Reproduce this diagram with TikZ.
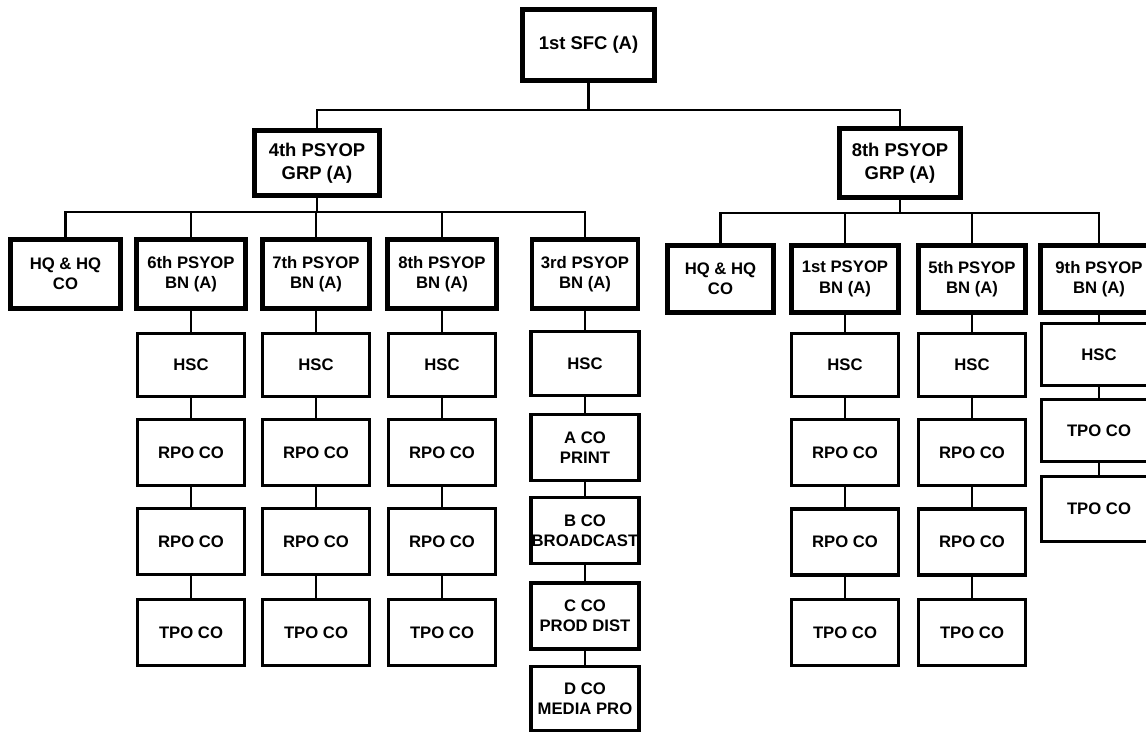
\documentclass[tikz,border=0pt]{standalone}
\usepackage{fontspec}
\setmainfont{Liberation Sans}
\begin{document}
\begin{tikzpicture}[x=0.02cm,y=-0.02cm,
  topbox/.style={draw=black,line width=2.8pt,rectangle,inner sep=0pt,outer sep=0pt,align=center,
    font=\fontsize{10.5}{13}\selectfont\bfseries},
  bnbox/.style={draw=black,line width=2.8pt,rectangle,inner sep=0pt,outer sep=0pt,align=center,
    minimum height=1.38cm,font=\fontsize{9.5}{11.5}\selectfont\bfseries},
  cobox/.style={draw=black,line width=1.9pt,rectangle,inner sep=0pt,outer sep=0pt,align=center,
    minimum width=2.14cm,minimum height=1.32cm,font=\fontsize{9.5}{11.5}\selectfont\bfseries},
  link/.style={draw=black,line width=1.3pt}]
\useasboundingbox (0,0) rectangle (1146,734);
\clip (0,0) rectangle (1146,734);
% top levels
\node[topbox,minimum width=2.64cm,minimum height=1.42cm] (sfc) at (588.5,45) {1st SFC (A)};
\node[topbox,minimum width=2.5cm,minimum height=1.3cm] (g4) at (317,163) {4th PSYOP\\GRP (A)};
\node[topbox,minimum width=2.42cm,minimum height=1.38cm] (g8) at (900,163) {8th PSYOP\\GRP (A)};
% battalions, left group
\node[bnbox,minimum width=2.2cm] (hqL) at (65.5,274) {HQ \& HQ\\CO};
\node[bnbox,minimum width=2.18cm] (b6) at (191,274) {6th PSYOP\\BN (A)};
\node[bnbox,minimum width=2.14cm] (b7) at (316,274) {7th PSYOP\\BN (A)};
\node[bnbox,minimum width=2.18cm] (b8) at (442,274) {8th PSYOP\\BN (A)};
\node[bnbox,minimum width=2.12cm] (b3) at (585,274) {3rd PSYOP\\BN (A)};
% battalions, right group
\node[bnbox,minimum width=2.12cm,minimum height=1.34cm] (hqR) at (720.5,279) {HQ \& HQ\\CO};
\node[bnbox,minimum width=2.14cm,minimum height=1.34cm] (b1) at (845,279) {1st PSYOP\\BN (A)};
\node[bnbox,minimum width=2.14cm,minimum height=1.34cm] (b5) at (972,279) {5th PSYOP\\BN (A)};
\node[bnbox,minimum width=2.34cm,minimum height=1.34cm] (b9) at (1099,279) {9th PSYOP\\BN (A)};
% 6th column
\node[cobox,minimum height=1.26cm] (c6a) at (191,365) {HSC};
\node[cobox] (c6b) at (191,452.5) {RPO CO};
\node[cobox] (c6c) at (191,541.5) {RPO CO};
\node[cobox] (c6d) at (191,632.5) {TPO CO};
% 7th column
\node[cobox,minimum height=1.26cm] (c7a) at (316,365) {HSC};
\node[cobox] (c7b) at (316,452.5) {RPO CO};
\node[cobox] (c7c) at (316,541.5) {RPO CO};
\node[cobox] (c7d) at (316,632.5) {TPO CO};
% 8th column
\node[cobox,minimum height=1.26cm] (c8a) at (442,365) {HSC};
\node[cobox] (c8b) at (442,452.5) {RPO CO};
\node[cobox] (c8c) at (442,541.5) {RPO CO};
\node[cobox] (c8d) at (442,632.5) {TPO CO};
% 3rd column
\node[cobox,minimum width=2.16cm,minimum height=1.28cm] (c3a) at (585,363.5) {HSC};
\node[cobox,minimum width=2.16cm] (c3b) at (585,447.5) {A CO\\PRINT};
\node[cobox,minimum width=2.16cm] (c3c) at (585,530.5) {B CO\\BROADCAST};
\node[cobox,minimum width=2.16cm] (c3d) at (585,616) {C CO\\PROD DIST};
\node[cobox,minimum width=2.16cm,minimum height=1.28cm] (c3e) at (585,698.5) {D CO\\MEDIA PRO};
% 1st column
\node[cobox,minimum height=1.26cm] (c1a) at (845,365) {HSC};
\node[cobox] (c1b) at (845,452.5) {RPO CO};
\node[cobox] (c1c) at (845,542) {RPO CO};
\node[cobox] (c1d) at (845,632.5) {TPO CO};
% 5th column
\node[cobox,minimum height=1.26cm] (c5a) at (972,365) {HSC};
\node[cobox] (c5b) at (972,452.5) {RPO CO};
\node[cobox] (c5c) at (972,542) {RPO CO};
\node[cobox] (c5d) at (972,632.5) {TPO CO};
% 9th column
\node[cobox,minimum width=2.3cm,minimum height=1.24cm] (c9a) at (1099,354.5) {HSC};
\node[cobox,minimum width=2.3cm,minimum height=1.24cm] (c9b) at (1099,430.5) {TPO CO};
\node[cobox,minimum width=2.3cm,minimum height=1.3cm] (c9c) at (1099,509) {TPO CO};
% bars
\coordinate (bar1) at (588.5,110);
\coordinate (bar4) at (317,212);
\coordinate (bar8) at (900,213);
\draw[link] (sfc) -- (bar1);
\draw[link] (bar1) -| (g4);
\draw[link] (bar1) -| (g8);
\draw[link] (g4) -- (bar4);
\foreach \n in {hqL,b6,b7,b8,b3} \draw[link] (bar4) -| (\n);
\draw[link] (g8) -- (bar8);
\foreach \n in {hqR,b1,b5,b9} \draw[link] (bar8) -| (\n);
% column links
\draw[link] (b6) -- (c6a) (c6a) -- (c6b) (c6b) -- (c6c) (c6c) -- (c6d);
\draw[link] (b7) -- (c7a) (c7a) -- (c7b) (c7b) -- (c7c) (c7c) -- (c7d);
\draw[link] (b8) -- (c8a) (c8a) -- (c8b) (c8b) -- (c8c) (c8c) -- (c8d);
\draw[link] (b3) -- (c3a) (c3a) -- (c3b) (c3b) -- (c3c) (c3c) -- (c3d) (c3d) -- (c3e);
\draw[link] (b1) -- (c1a) (c1a) -- (c1b) (c1b) -- (c1c) (c1c) -- (c1d);
\draw[link] (b5) -- (c5a) (c5a) -- (c5b) (c5b) -- (c5c) (c5c) -- (c5d);
\draw[link] (b9) -- (c9a) (c9a) -- (c9b) (c9b) -- (c9c);
\end{tikzpicture}
\end{document}
